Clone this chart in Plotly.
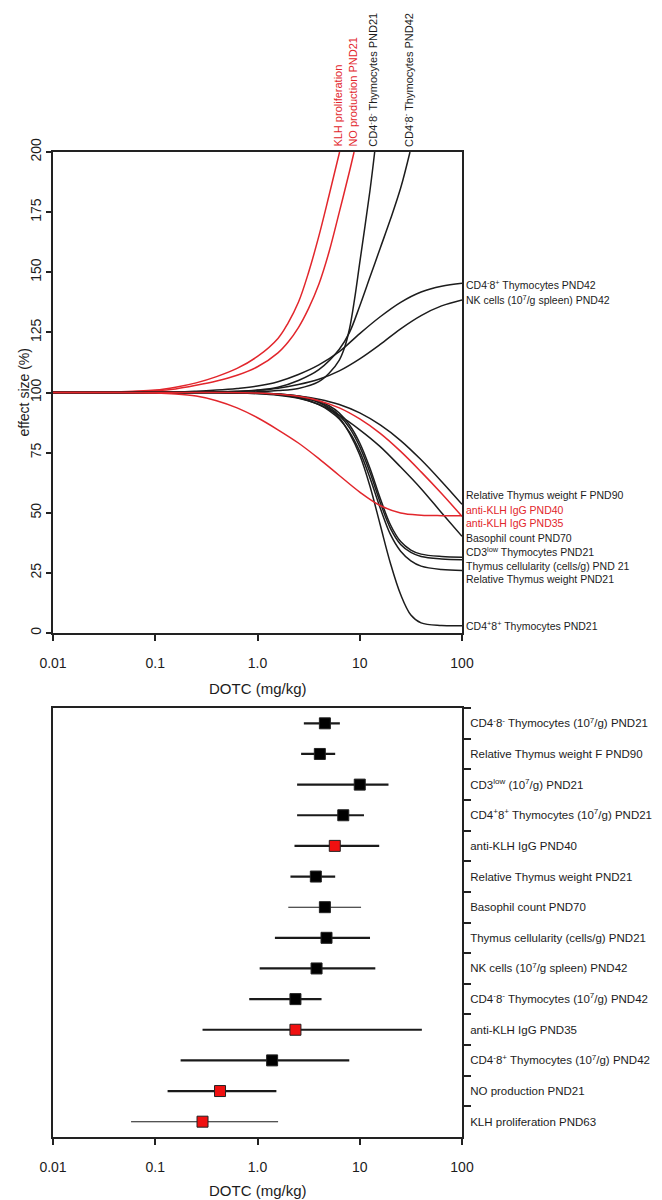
import math
import plotly.graph_objects as go

# ---------------- DATA ----------------
# Top panel: dose-response curves, DOTC (mg/kg) vs effect size (%)
klh_prolif_x = [0.01, 0.0398, 0.1, 0.158, 0.251, 0.398, 0.631, 1, 1.585, 1.995, 2.512, 3.162, 3.981, 5.012, 6.35]
klh_prolif_y = [100, 100.2, 101, 102.2, 104, 106.6, 110, 115, 122.5, 129, 137.5, 150, 165, 182, 200]

no_prod_x = [0.01, 0.0398, 0.1, 0.158, 0.251, 0.398, 0.631, 1, 1.585, 1.995, 2.512, 3.162, 3.981,
             5.012, 6.31, 7.943, 8.8]
no_prod_y = [100, 100.1, 100.7, 101.5, 103, 104.8, 107.2, 110.7, 116.5, 121, 127, 135, 145,
             158.5, 175, 192, 200]

cd4n8n_21_x = [0.01, 0.398, 1, 1.585, 2.512, 3.981, 5.012, 6.31, 7.079, 7.943, 8.913, 10, 12.59, 14]
cd4n8n_21_y = [100, 100, 100.3, 100.8, 101.7, 104.5, 108, 113.5, 118.5, 126.5, 139, 154, 184, 200]

cd4n8n_42_x = [0.01, 0.251, 0.631, 1, 1.585, 2.512, 3.981, 6.31, 7.943, 10, 12.59, 15.85, 19.95, 25.12, 31]
cd4n8n_42_y = [100, 100.1, 100.5, 101, 102.2, 105, 109.5, 118, 125, 136, 148, 160, 172, 185, 200]

cd4n8p_42_x = [0.01, 0.158, 0.251, 0.398, 0.631, 1, 1.585, 2.512, 3.981, 6.31, 10, 15.85, 25.12,
               39.81, 63.1, 100]
cd4n8p_42_y = [100, 100.2, 100.5, 101, 101.7, 102.7, 104.5, 107.5, 111.5, 117, 124.5, 131.5, 137.5,
               141.8, 144.2, 145.4]

nk_42_x = [0.01, 0.251, 0.631, 1, 1.585, 2.512, 3.981, 6.31, 10, 15.85, 25.12, 39.81, 63.1, 100]
nk_42_y = [100, 100, 100.4, 100.9, 101.8, 103.3, 105.5, 109, 114, 120, 126.5, 132, 136, 138.5]

decline_x = [0.01, 0.398, 1, 1.585, 2.512, 3.981, 6.31, 10, 15.85, 25.12, 39.81, 63.1, 100]
rel_tw_f90_y = [100, 100, 99.8, 99.4, 98.6, 97.2, 95, 91.5, 86.5, 80, 72, 63, 53.5]
anti_klh40_y = [100, 100, 99.8, 99.3, 98.4, 96.6, 93.6, 89, 83, 75.5, 67, 58, 48.5]
basophil_y = [100, 100, 99.7, 99.1, 97.8, 95, 90.5, 84.5, 77.5, 69, 60, 50, 40.2]

anti_klh35_x = [0.01, 0.0398, 0.1, 0.158, 0.251, 0.398, 0.631, 1, 1.585, 2.512, 3.981, 6.31, 10,
                15.85, 25.12, 39.81, 63.1, 100]
anti_klh35_y = [100, 100, 99.8, 99.4, 98.5, 96.6, 93.6, 89.5, 84.5, 79, 72.5, 65.5, 58.6,
                53, 49.9, 49, 48.8, 48.8]

steep_x = [0.01, 0.398, 1, 1.585, 2.512, 3.981, 5.012, 6.31, 7.943, 10, 12.59, 15.85, 19.95,
           25.12, 31.62, 39.81, 63.1, 100]
cd3low_y = [100, 100, 99.8, 99.4, 98.5, 96.5, 94.5, 91.5, 86.5, 79, 68.5, 56, 45,
            38, 34.5, 32.8, 31.8, 31.5]
thy_cell_y = [100, 100, 99.7, 99.2, 98.2, 96, 93.8, 90.5, 85.3, 77.5, 66.8, 54.3, 43.5,
              36.8, 33.5, 31.8, 30.8, 30.5]
rel_tw21_y = [100, 100, 99.5, 98.9, 97.6, 95, 92.5, 89, 83.5, 75.5, 64.5, 52, 41,
              34, 30, 27.8, 26.4, 26]
cd4p8p_21_y = [100, 100, 99.8, 99.3, 98.2, 95.8, 93.3, 89.5, 83, 74, 61, 45, 29,
               16, 7.5, 4.2, 3.1, 3]

# Top-panel labels
top_labels = ["KLH proliferation", "NO production PND21",
              "CD4<sup>-</sup>8<sup>-</sup> Thymocytes PND21",
              "CD4<sup>-</sup>8<sup>-</sup> Thymocytes PND42"]
right_labels = ["CD4<sup>-</sup>8<sup>+</sup> Thymocytes PND42",
                "NK cells (10<sup>7</sup>/g spleen) PND42",
                "Relative Thymus weight F PND90",
                "anti-KLH IgG PND40",
                "anti-KLH IgG PND35",
                "Basophil count PND70",
                "CD3<sup>low</sup> Thymocytes PND21",
                "Thymus cellularity (cells/g) PND 21",
                "Relative Thymus weight PND21",
                "CD4<sup>+</sup>8<sup>+</sup> Thymocytes PND21"]

# Bottom panel: CED with confidence intervals
forest_labels = ["CD4<sup>-</sup>8<sup>-</sup> Thymocytes (10<sup>7</sup>/g) PND21",
                 "Relative Thymus weight F PND90",
                 "CD3<sup>low</sup> (10<sup>7</sup>/g) PND21",
                 "CD4<sup>+</sup>8<sup>+</sup> Thymocytes (10<sup>7</sup>/g) PND21",
                 "anti-KLH IgG PND40",
                 "Relative Thymus weight PND21",
                 "Basophil count PND70",
                 "Thymus cellularity (cells/g) PND21",
                 "NK cells (10<sup>7</sup>/g spleen) PND42",
                 "CD4<sup>-</sup>8<sup>-</sup> Thymocytes (10<sup>7</sup>/g) PND42",
                 "anti-KLH IgG PND35",
                 "CD4<sup>-</sup>8<sup>+</sup> Thymocytes (10<sup>7</sup>/g) PND42",
                 "NO production PND21",
                 "KLH proliferation PND63"]
ced = [4.56, 4.07, 10.0, 6.9, 5.7, 3.72, 4.56, 4.73, 3.78, 2.35, 2.35, 1.39, 0.43, 0.29]
ced_low = [2.84, 2.67, 2.44, 2.44, 2.3, 2.1, 2.0, 1.48, 1.05, 0.83, 0.29, 0.177, 0.132, 0.058]
ced_high = [6.39, 5.75, 19.1, 11.0, 15.5, 5.75, 10.3, 12.6, 14.2, 4.23, 40.5, 7.9, 1.53, 1.59]
is_immune = [False, False, False, False, True, False, False, False, False, False, True, False, True, True]

x_tickvals = [0.01, 0.1, 1, 10, 100]
x_ticktext = ["0.01", "0.1", "1.0", "10", "100"]
y_tickvals = [0, 25, 50, 75, 100, 125, 150, 175, 200]

# ---------------- STYLE ----------------
RED = "#e2262c"
MRED = "#f01010"
INK = "#1c1c1c"
FONT = "Liberation Sans, Arial, sans-serif"

fig = go.Figure()

curves = [
    (klh_prolif_x, klh_prolif_y, RED),
    (no_prod_x, no_prod_y, RED),
    (cd4n8n_21_x, cd4n8n_21_y, INK),
    (cd4n8n_42_x, cd4n8n_42_y, INK),
    (cd4n8p_42_x, cd4n8p_42_y, INK),
    (nk_42_x, nk_42_y, INK),
    (decline_x, rel_tw_f90_y, INK),
    (decline_x, basophil_y, INK),
    (steep_x, cd3low_y, INK),
    (steep_x, thy_cell_y, INK),
    (steep_x, rel_tw21_y, INK),
    (steep_x, cd4p8p_21_y, INK),
    (decline_x, anti_klh40_y, RED),
    (anti_klh35_x, anti_klh35_y, RED),
]
for xs, ys, col in curves:
    fig.add_trace(go.Scatter(x=xs, y=ys, mode="lines", xaxis="x", yaxis="y",
                             line=dict(color=col, width=1.5, shape="spline", smoothing=1.0),
                             showlegend=False, hoverinfo="skip"))

for i, lab in enumerate(forest_labels):
    thin = lab.startswith("Basophil") or lab.startswith("KLH")
    fig.add_trace(go.Scatter(
        x=[ced[i]], y=[lab], mode="markers", xaxis="x2", yaxis="y2",
        marker=dict(symbol="square", size=11, color=MRED if is_immune[i] else "#000",
                    line=dict(color="#222", width=1)),
        error_x=dict(type="data", symmetric=False,
                     array=[ced_high[i] - ced[i]], arrayminus=[ced[i] - ced_low[i]],
                     color="#1a1a1a", thickness=1.1 if thin else 2.2, width=0),
        showlegend=False, hoverinfo="skip"))

ann = []
top_exit = [klh_prolif_x[-1], no_prod_x[-1], cd4n8n_21_x[-1], cd4n8n_42_x[-1]]
top_cols = [RED, RED, INK, INK]
for txt, xv, col in zip(top_labels, top_exit, top_cols):
    ann.append(dict(text=txt, x=math.log10(xv), xref="x", y=1, yref="y domain",
                    xanchor="center", yanchor="bottom", yshift=3, xshift=-2, textangle=-90,
                    showarrow=False, font=dict(size=11, color=col, family=FONT)))

right_pos = [145.1, 138.5, 57.4, 51.1, 45.7, 39.5, 33.7, 27.9, 22.5, 3.3]
right_cols = [INK, INK, INK, RED, RED, INK, INK, INK, INK, INK]
for txt, yv, col in zip(right_labels, right_pos, right_cols):
    ann.append(dict(text=txt, x=1, xref="x domain", y=yv, yref="y",
                    xanchor="left", yanchor="middle", xshift=2,
                    showarrow=False, font=dict(size=10.5, color=col, family=FONT)))

ann.append(dict(text="effect size (%)", x=0, xref="x domain", y=0.5, yref="y domain",
                xanchor="center", yanchor="middle", xshift=-30, textangle=-90,
                showarrow=False, font=dict(size=14, color=INK, family=FONT)))
ann.append(dict(text="DOTC (mg/kg)", x=0.5, xref="x domain", y=0, yref="y domain",
                xanchor="center", yanchor="middle", yshift=-55,
                showarrow=False, font=dict(size=15, color=INK, family=FONT)))
ann.append(dict(text="DOTC (mg/kg)", x=0.5, xref="x2 domain", y=0, yref="y2 domain",
                xanchor="center", yanchor="middle", yshift=-53,
                showarrow=False, font=dict(size=15, color=INK, family=FONT)))

axis_common = dict(showline=True, linewidth=1.8, linecolor="#222", mirror=True,
                   showgrid=False, zeroline=False, ticks="outside", tickwidth=1.5,
                   tickcolor="#222", automargin=False)
xcommon = dict(axis_common, type="log", range=[-2, 2], tickvals=x_tickvals,
               ticktext=x_ticktext, ticklen=6, ticklabelstandoff=10,
               tickfont=dict(size=14, color=INK, family=FONT))

# the page adds an 8px body margin, so the figure is drawn 8px smaller/offset
W, H, ML, MT, MR, MB = 654, 1192, 45, 144, 200, 63
H_PLOT = H - MT - MB
TOP_BOTTOM_PX = 633 - 8 - MT     # top panel bottom edge, from plot-area top
BOT_TOP_PX = 708 - 8 - MT        # bottom panel top edge
n_rows = len(forest_labels)
fig.update_layout(
    width=W, height=H, template="none",
    paper_bgcolor="white", plot_bgcolor="white",
    margin=dict(l=ML, r=MR, t=MT, b=MB, autoexpand=False),
    font=dict(family=FONT, color=INK),
    showlegend=False,
    xaxis=dict(xcommon, domain=[0, 1], anchor="y"),
    yaxis=dict(axis_common, domain=[1 - TOP_BOTTOM_PX / H_PLOT, 1], anchor="x",
               range=[0, 200], tickvals=y_tickvals, tickangle=-90, ticklen=5,
               tickfont=dict(size=14, color=INK, family=FONT)),
    xaxis2=dict(xcommon, domain=[0, 1], anchor="y2"),
    yaxis2=dict(axis_common, domain=[0, 1 - BOT_TOP_PX / H_PLOT], anchor="x2",
                type="category", categoryorder="array", categoryarray=forest_labels,
                range=[n_rows - 0.5, -0.5], autorange=False,
                side="right", tickson="boundaries", ticklen=7, ticklabelstandoff=4,
                tickfont=dict(size=11.5, color=INK, family=FONT)),
    annotations=ann,
)

fig.write_html("out.html")
